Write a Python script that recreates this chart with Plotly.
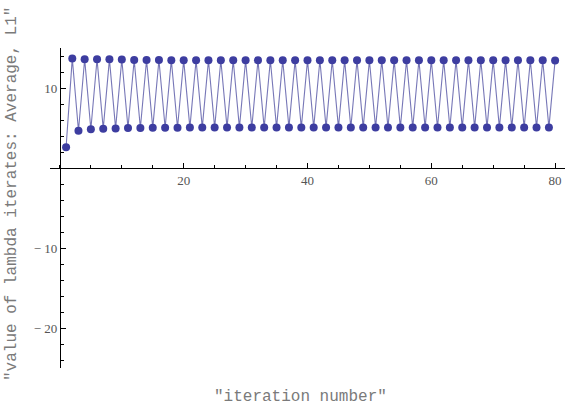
import plotly.graph_objects as go

iterations = list(range(1, 81))
lambda_avg = [
    2.6, 13.7, 4.65, 13.6, 4.85, 13.6, 4.9, 13.58, 4.95, 13.57,
    5.0, 13.5, 5.0, 13.5, 5.02, 13.5, 5.03, 13.48, 5.04, 13.48,
    5.05, 13.47, 5.05, 13.47, 5.05, 13.47, 5.05, 13.46, 5.05, 13.46,
    5.05, 13.46, 5.05, 13.46, 5.05, 13.46, 5.05, 13.46, 5.05, 13.46,
    5.05, 13.46, 5.05, 13.46, 5.05, 13.46, 5.05, 13.46, 5.05, 13.46,
    5.05, 13.46, 5.05, 13.46, 5.05, 13.46, 5.05, 13.46, 5.05, 13.46,
    5.05, 13.46, 5.05, 13.46, 5.05, 13.46, 5.05, 13.46, 5.05, 13.46,
    5.05, 13.46, 5.05, 13.46, 5.05, 13.46, 5.05, 13.46, 5.05, 13.45,
]
x_tickvals = [20, 40, 60, 80]
x_ticktext = ["20", "40", "60", "80"]
y_tickvals = [-20, -10, 10]
y_ticktext = ["\u2212 20", "\u2212 10", "10"]
x_title = '"iteration number"'
y_title = '"value of lambda iterates: Average, L1"'

xr = [-1.6, 81.6]
yr = [-25, 15]

W, H = 565, 409
ML, MR, MT, MB = 50, 0, 48, 41
PW, PH = W - ML - MR, H - MT - MB

fig = go.Figure()
fig.add_trace(go.Scatter(
    x=iterations, y=lambda_avg, mode="lines+markers",
    line=dict(color="rgba(61,61,153,0.7)", width=1.1),
    marker=dict(color="rgb(61,61,160)", size=8),
    showlegend=False,
))

tick_font = dict(family="Liberation Serif", size=13, color="#555555")
title_font = dict(family="Liberation Mono", size=16, color="#7a7a7a")
fig.update_layout(
    width=W, height=H,
    margin=dict(l=ML, r=MR, t=MT, b=MB),
    paper_bgcolor="white", plot_bgcolor="white",
    xaxis=dict(
        range=xr, showgrid=False, zeroline=False,
        showline=True, linecolor="black", linewidth=1,
        anchor="free", position=(0 - yr[0]) / (yr[1] - yr[0]),
        tickmode="array", tickvals=x_tickvals, ticktext=x_ticktext,
        ticks="inside", ticklen=5, tickcolor="black", tickwidth=1,
        tickfont=tick_font,
        minor=dict(dtick=5, tick0=0, ticks="inside", ticklen=3, tickcolor="black"),
    ),
    yaxis=dict(
        range=yr, showgrid=False, zeroline=False,
        showline=True, linecolor="black", linewidth=1,
        anchor="free", position=(0 - xr[0]) / (xr[1] - xr[0]),
        tickmode="array", tickvals=y_tickvals, ticktext=y_ticktext,
        ticks="inside", ticklen=5, tickcolor="black", tickwidth=1,
        tickfont=tick_font,
        minor=dict(dtick=2, tick0=0, ticks="inside", ticklen=3, tickcolor="black"),
    ),
    annotations=[
        dict(text=x_title, xref="paper", yref="paper",
             x=(300 - ML) / PW, y=(PH + MT - 397) / PH,
             xanchor="center", yanchor="middle", showarrow=False,
             font=title_font),
        dict(text=y_title, xref="paper", yref="paper",
             x=(12 - ML) / PW, y=(PH + MT - 194) / PH, textangle=-90,
             xanchor="center", yanchor="middle", showarrow=False,
             font=title_font),
    ],
)

fig.write_html(
    "out.html",
    config={"displayModeBar": False},
    post_script="document.body.style.margin='0';document.body.style.overflow='hidden';",
)
